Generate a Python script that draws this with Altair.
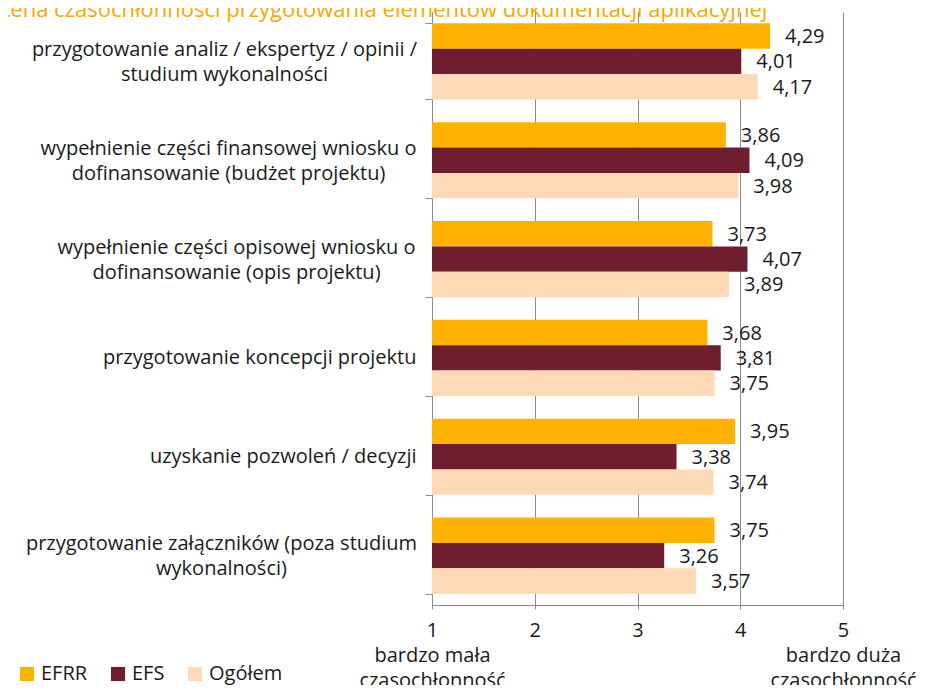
import altair as alt
import pandas as pd

title_text = "Ocena czasochłonności przygotowania elementów dokumentacji aplikacyjnej"

categories = [
    ["przygotowanie analiz / ekspertyz / opinii /", "studium wykonalności"],
    ["wypełnienie części finansowej wniosku o", "dofinansowanie (budżet projektu)"],
    ["wypełnienie części opisowej wniosku o", "dofinansowanie (opis projektu)"],
    ["przygotowanie koncepcji projektu"],
    ["uzyskanie pozwoleń / decyzji"],
    ["przygotowanie załączników (poza studium", "wykonalności)"],
]
series = ["EFRR", "EFS", "Ogółem"]
efrr = [4.29, 3.86, 3.73, 3.68, 3.95, 3.75]
efs = [4.01, 4.09, 4.07, 3.81, 3.38, 3.26]
ogolem = [4.17, 3.98, 3.89, 3.75, 3.74, 3.57]
colors = ["#FFB300", "#6E1E2E", "#FDD9B5"]
x_ticks = [1, 2, 3, 4, 5]
x_low = ["bardzo mała", "czasochłonność"]
x_high = ["bardzo duża", "czasochłonność"]

cat_keys = ["|".join(c) for c in categories]
rows = []
for s, vals in zip(series, [efrr, efs, ogolem]):
    for k, v in zip(cat_keys, vals):
        rows.append({"cat": k, "series": s, "value": v})
df = pd.DataFrame(rows)

FONT = "Open Sans"
GRAY = "#8C8C8C"
TXT = "#1a1a1a"

# wrapped (two-line) labels are centred on their longest line, as in the source
wrapped_pad = {cat_keys[0]: 201, cat_keys[1]: 197, cat_keys[2]: 189, cat_keys[5]: 204}
pad_cond = [{"test": "datum.value == '" + k + "'", "value": p} for k, p in wrapped_pad.items()]

label_expr_x = (
    "datum.value == 1 ? ['1', '" + x_low[0] + "', '" + x_low[1] + "'] : "
    "datum.value == 5 ? ['5', '" + x_high[0] + "', '" + x_high[1] + "'] : format(datum.value, 'd')"
)

base = alt.Chart(df).transform_calculate(
    lab="replace(format(datum.value, '.2f'), '.', ',')"
)

multi_test = "length(split('' + datum.value, '|')) > 1"
y_enc = alt.Y(
    "cat:N",
    sort=cat_keys,
    title=None,
    scale=alt.Scale(paddingInner=0.23, paddingOuter=0.115),
    axis=alt.Axis(
        labelExpr="split(datum.label, '|')",
        labelFont=FONT,
        labelFontSize=20,
        labelColor=TXT,
        labelLineHeight=25,
        labelLimit=600,
        labelPadding={"condition": pad_cond, "value": 9},
        labelAlign={"condition": {"test": multi_test, "value": "center"}, "value": "right"},
        labelOffset={"condition": {"test": multi_test, "value": -12}, "value": 0},
        tickBand="extent",
        tickSize=7,
        tickColor=GRAY,
        domainColor=GRAY,
        grid=False,
    ),
)
yoff = alt.YOffset("series:N", sort=series, scale=alt.Scale(paddingInner=0, paddingOuter=0))
x_enc = alt.X(
    "value:Q",
    title=None,
    scale=alt.Scale(domain=[1, 5], nice=False, zero=False),
    axis=alt.Axis(
        values=x_ticks,
        labelExpr=label_expr_x,
        labelFont=FONT,
        labelFontSize=20,
        labelColor=TXT,
        labelLineHeight=25,
        labelPadding=11,
        labelFlush=False,
        labelOverlap=False,
        labelBound=False,
        tickSize=4,
        tickColor=GRAY,
        domainColor=GRAY,
        grid=True,
        gridColor=GRAY,
        gridWidth=1,
    ),
)

bars = base.mark_bar().encode(
    y=y_enc,
    yOffset=yoff,
    x=x_enc,
    x2=alt.datum(1),
    color=alt.Color(
        "series:N",
        sort=series,
        scale=alt.Scale(domain=series, range=colors),
        legend=alt.Legend(
            title=None,
            orient="none",
            legendX=-415,
            legendY=652,
            direction="horizontal",
            symbolType="square",
            symbolSize=200,
            symbolStrokeWidth=0,
            labelFont=FONT,
            labelFontSize=20,
            labelColor=TXT,
            labelOffset=4,
            columnPadding=20,
        ),
    ),
)

labels = base.mark_text(
    align="left", baseline="middle", dx=15, dy=1, font=FONT, fontSize=20, color=TXT
).encode(
    y=alt.Y("cat:N", sort=cat_keys),
    yOffset=yoff,
    x=alt.X("value:Q"),
    text="lab:N",
)

title = alt.Chart(pd.DataFrame({"t": [title_text]})).mark_text(
    align="center", baseline="alphabetic", font=FONT, fontSize=22, color="#F5A800"
).encode(x=alt.value(-57), y=alt.value(5), text="t:N")

chart = (
    alt.layer(bars, labels, title)
    .properties(
        width=411,
        height=593,
        autosize=alt.AutoSizeParams(type="none"),
        padding={"left": 424, "top": 4, "right": 84, "bottom": 80},
    )
    .configure_view(stroke=None)
)

chart.save("out.html", embed_options={"renderer": "svg", "actions": False})
